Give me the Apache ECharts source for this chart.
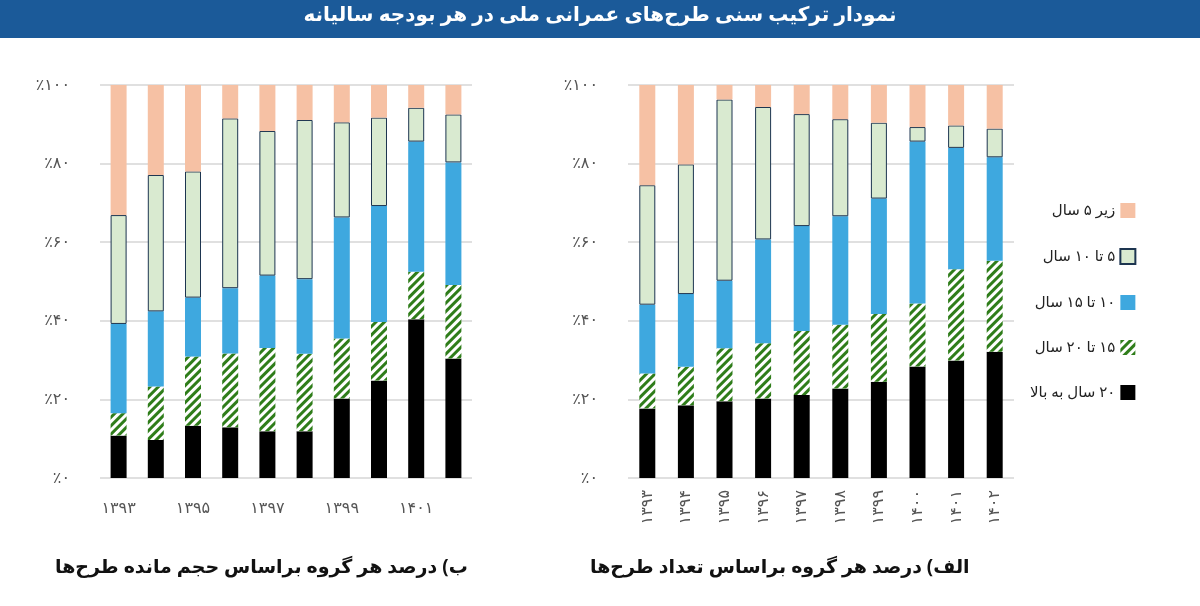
<!DOCTYPE html>
<html><head><meta charset="utf-8">
<script src="https://cdn.jsdelivr.net/npm/echarts@6/dist/echarts.min.js"></script>
<style>html,body{margin:0;padding:0;background:#fff}#c{width:1200px;height:606px}</style>
</head><body><div id="c"></div>
<script>
const years = ['۱۳۹۳','۱۳۹۴','۱۳۹۵','۱۳۹۶','۱۳۹۷','۱۳۹۸','۱۳۹۹','۱۴۰۰','۱۴۰۱','۱۴۰۲'];
const seriesNames = ['۲۰ سال به بالا','۱۵ تا ۲۰ سال','۱۰ تا ۱۵ سال','۵ تا ۱۰ سال','زیر ۵ سال'];
// Left chart (ب): by remaining volume
const volOver20 = [10.8,9.7,13.3,12.9,11.9,11.9,20.2,24.8,40.4,30.4];
const vol15to20 = [5.7,13.6,17.6,18.8,21.2,19.7,15.3,14.9,12.1,18.7];
const vol10to15 = [22.7,19.1,15.0,16.6,18.4,19.0,30.8,29.5,33.1,31.2];
const vol5to10 = [27.7,34.7,32.1,43.2,36.8,40.5,24.2,22.5,8.6,12.2];
const volUnder5 = [33.1,22.9,22.0,8.5,11.7,8.9,9.5,8.3,5.8,7.5];
// Right chart (الف): by number of projects
const cntOver20 = [17.7,18.5,19.5,20.2,21.1,22.8,24.5,28.4,29.9,32.1];
const cnt15to20 = [8.9,9.8,13.5,14.1,16.3,16.2,17.2,16.0,23.2,23.2];
const cnt10to15 = [17.5,18.5,17.2,26.4,26.7,27.6,29.4,41.2,30.9,26.3];
const cnt5to10 = [30.4,33.0,46.1,33.7,28.5,24.7,19.3,3.7,5.7,7.3];
const cntUnder5 = [25.5,20.2,3.7,5.6,7.4,8.7,9.6,10.7,10.3,11.1];
const yTicks = ['٪۰','٪۲۰','٪۴۰','٪۶۰','٪۸۰','٪۱۰۰'];

const fa = 'Noto Sans, DejaVu Sans, sans-serif';
const RLM = '\u200F';
const hatch = {symbol:'rect', color:'#2f7d1a', dashArrayX:[1,0], dashArrayY:[2.5,2.5], rotation:-Math.PI/4, symbolSize:1};
const styles = [
  {color:'#000000'},
  {color:'#ffffff', decal:hatch},
  {color:'#3ea8df'},
  {color:'#d9ead0', borderColor:'#1d3550', borderWidth:1},
  {color:'#f6c1a4'}
];
const volData = [volOver20,vol15to20,vol10to15,vol5to10,volUnder5];
const cntData = [cntOver20,cnt15to20,cnt10to15,cnt5to10,cntUnder5];

function yAxis(gi){return {type:'value',gridIndex:gi,min:0,max:100,interval:20,
  axisLabel:{color:'#555',fontSize:16,fontFamily:fa,margin:30,formatter:(v)=>yTicks[v/20]},
  splitLine:{lineStyle:{color:'#d6d6d6',width:1.5}},axisLine:{show:false},axisTick:{show:false}};}

const series=[];
[volData,cntData].forEach((set,gi)=>{
  set.forEach((d,i)=>{
    series.push({type:'bar',name:RLM+seriesNames[i]+RLM,xAxisIndex:gi,yAxisIndex:gi,stack:'s'+gi,
      barWidth:16,data:d,itemStyle:styles[i]});
  });
});

const chart = echarts.init(document.getElementById('c'));
chart.setOption({
  animation:false,
  aria:{enabled:false,decal:{show:true}},
  graphic:[
    {type:'rect',left:0,top:0,shape:{width:1200,height:38},style:{fill:'#1b5a99'}},
    {type:'text',left:'center',top:5,style:{text:'نمودار ترکیب سنی طرح‌های عمرانی ملی در هر بودجه سالیانه',fill:'#fff',font:'bold 20px Noto Sans, DejaVu Sans, sans-serif'}},
    {type:'text',left:55,top:558,style:{text:'ب) درصد هر گروه براساس حجم مانده طرح‌ها',fill:'#111',font:'bold 19px Noto Sans, DejaVu Sans, sans-serif'}},
    {type:'text',left:590,top:558,style:{text:'الف) درصد هر گروه براساس تعداد طرح‌ها',fill:'#111',font:'bold 19px Noto Sans, DejaVu Sans, sans-serif'}}
  ],
  legend:{orient:'vertical',left:1025,top:198,itemGap:30,itemWidth:15,itemHeight:15,align:'right',icon:'rect',
    data:seriesNames.slice().reverse().map(s=>RLM+s+RLM),textStyle:{fontSize:15,fontFamily:fa,color:'#222'}},
  grid:[{left:100,top:85,width:372,height:393},{left:628,top:85,width:386,height:393}],
  xAxis:[
    {type:'category',gridIndex:0,data:years,axisLine:{show:false},axisTick:{show:false},
     axisLabel:{interval:1,color:'#555',fontSize:16,fontFamily:fa,margin:22}},
    {type:'category',gridIndex:1,data:years,axisLine:{show:false},axisTick:{show:false},
     axisLabel:{rotate:90,interval:0,color:'#555',fontSize:16,fontFamily:fa,margin:12}}
  ],
  yAxis:[yAxis(0),yAxis(1)],
  series:series
});
</script></body></html>
